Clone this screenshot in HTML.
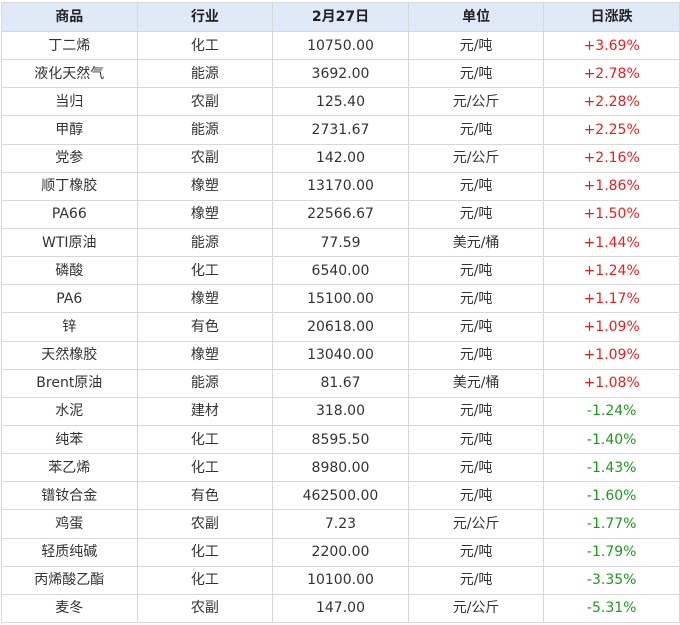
<!DOCTYPE html>
<html><head><meta charset="utf-8"><style>
body{margin:0;background:#fff;width:680px;height:625px;overflow:hidden}
table{position:absolute;left:1px;top:2px;border-collapse:collapse;table-layout:fixed;width:678px;font-family:"DejaVu Sans","Noto Sans CJK SC",sans-serif;font-size:14px;color:#333}
td,th{border:1px solid #d8d8d8;text-align:center;padding:0;height:27.15px;line-height:26px;white-space:nowrap}
th{background:#dfe9f8;font-weight:bold;height:28px;color:#222}
.r{color:#f21b1b}.g{color:#1e9a1e}
</style></head><body>
<table>
<colgroup><col style="width:135.6px"><col style="width:135.6px"><col style="width:135.6px"><col style="width:135.6px"><col style="width:135.6px"></colgroup>
<tr><th>商品</th><th>行业</th><th>2月27日</th><th>单位</th><th>日涨跌</th></tr>
<tr><td>丁二烯</td><td>化工</td><td>10750.00</td><td>元/吨</td><td class="r">+3.69%</td></tr>
<tr><td>液化天然气</td><td>能源</td><td>3692.00</td><td>元/吨</td><td class="r">+2.78%</td></tr>
<tr><td>当归</td><td>农副</td><td>125.40</td><td>元/公斤</td><td class="r">+2.28%</td></tr>
<tr><td>甲醇</td><td>能源</td><td>2731.67</td><td>元/吨</td><td class="r">+2.25%</td></tr>
<tr><td>党参</td><td>农副</td><td>142.00</td><td>元/公斤</td><td class="r">+2.16%</td></tr>
<tr><td>顺丁橡胶</td><td>橡塑</td><td>13170.00</td><td>元/吨</td><td class="r">+1.86%</td></tr>
<tr><td>PA66</td><td>橡塑</td><td>22566.67</td><td>元/吨</td><td class="r">+1.50%</td></tr>
<tr><td>WTI原油</td><td>能源</td><td>77.59</td><td>美元/桶</td><td class="r">+1.44%</td></tr>
<tr><td>磷酸</td><td>化工</td><td>6540.00</td><td>元/吨</td><td class="r">+1.24%</td></tr>
<tr><td>PA6</td><td>橡塑</td><td>15100.00</td><td>元/吨</td><td class="r">+1.17%</td></tr>
<tr><td>锌</td><td>有色</td><td>20618.00</td><td>元/吨</td><td class="r">+1.09%</td></tr>
<tr><td>天然橡胶</td><td>橡塑</td><td>13040.00</td><td>元/吨</td><td class="r">+1.09%</td></tr>
<tr><td>Brent原油</td><td>能源</td><td>81.67</td><td>美元/桶</td><td class="r">+1.08%</td></tr>
<tr><td>水泥</td><td>建材</td><td>318.00</td><td>元/吨</td><td class="g">-1.24%</td></tr>
<tr><td>纯苯</td><td>化工</td><td>8595.50</td><td>元/吨</td><td class="g">-1.40%</td></tr>
<tr><td>苯乙烯</td><td>化工</td><td>8980.00</td><td>元/吨</td><td class="g">-1.43%</td></tr>
<tr><td>镨钕合金</td><td>有色</td><td>462500.00</td><td>元/吨</td><td class="g">-1.60%</td></tr>
<tr><td>鸡蛋</td><td>农副</td><td>7.23</td><td>元/公斤</td><td class="g">-1.77%</td></tr>
<tr><td>轻质纯碱</td><td>化工</td><td>2200.00</td><td>元/吨</td><td class="g">-1.79%</td></tr>
<tr><td>丙烯酸乙酯</td><td>化工</td><td>10100.00</td><td>元/吨</td><td class="g">-3.35%</td></tr>
<tr><td>麦冬</td><td>农副</td><td>147.00</td><td>元/公斤</td><td class="g">-5.31%</td></tr>
</table>
</body></html>
